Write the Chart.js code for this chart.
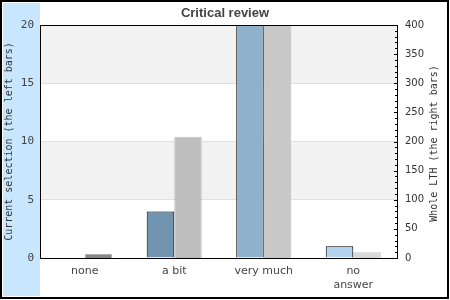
<html>
<head>
  <script src="https://cdn.jsdelivr.net/npm/chart.js@4"></script>
  <style>
    body { margin: 0; background: #fff; }
    #wrap { width: 450px; height: 300px; }
  </style>
</head>
<body>
  <div id="wrap"><canvas id="myChart"></canvas></div>
</body>
<script>
  const categories = ['none', 'a bit', 'very much', ['no', 'answer']];
  const leftValues = [0, 4, 24, 1];      // current selection
  const rightValues = [7, 208, 470, 10]; // whole LTH
  const leftColors = ['#7194b0', '#7194b0', '#8fb1cb', '#b3d3ee'];
  const rightColors = ['#888888', '#bebebe', '#c8c8c8', '#d9d9d9'];
  const rightBorders = ['#b0b0b0', '#bebebe', '#bdbdbd', '#c4c4c4'];
  const leftTicks = [0, 5, 10, 15, 20];
  const rightTicks = [0, 50, 100, 150, 200, 250, 300, 350, 400];

  const decor = {
    id: 'decor',
    beforeDraw(chart) {
      const c = chart.ctx, a = chart.chartArea, y = chart.scales.y;
      c.save();
      c.fillStyle = '#fff';
      c.fillRect(0, 0, chart.width, chart.height);
      c.fillStyle = '#c8e6fd';
      c.fillRect(3, 3, 37, 293);
      // alternating bands
      c.fillStyle = '#f2f2f2';
      [[15, 20], [5, 10]].forEach(([lo, hi]) => {
        const t = y.getPixelForValue(hi), b = y.getPixelForValue(lo);
        c.fillRect(a.left, t, a.right - a.left, b - t);
      });
      c.restore();
    },
    afterDraw(chart) {
      const c = chart.ctx, a = chart.chartArea, y2 = chart.scales.y2;
      c.save();
      c.strokeStyle = '#000';
      c.lineWidth = 1;
      c.strokeRect(a.left + 0.5, a.top + 0.5, a.right - a.left - 1, a.bottom - a.top);
      // minor/major ticks on right axis, drawn inward
      c.beginPath();
      for (let v = 0; v <= 400; v += 10) {
        const py = Math.round(y2.getPixelForValue(v)) + 0.5;
        const len = v % 50 === 0 ? 4 : 3;
        c.moveTo(a.right - len, py);
        c.lineTo(a.right, py);
      }
      c.stroke();
      // right axis title, reading bottom to top
      c.translate(434, (a.top + a.bottom) / 2 + 2);
      c.rotate(-Math.PI / 2);
      c.fillStyle = '#333';
      c.font = '10px "DejaVu Sans Mono"';
      c.textAlign = 'center';
      c.textBaseline = 'middle';
      c.fillText('Whole LTH (the right bars)', 0, 0);
      c.restore();
      // outer frame
      c.save();
      c.strokeStyle = '#000';
      c.lineWidth = 2;
      c.strokeRect(1, 1, 447, 297);
      c.restore();
    }
  };

  const ctx = document.getElementById('myChart').getContext('2d');
  const chart = new Chart(ctx, {
    type: 'bar',
    data: {
      labels: categories,
      datasets: [
        {
          label: 'Current selection',
          data: leftValues,
          yAxisID: 'y',
          backgroundColor: leftColors,
          borderColor: '#000',
          borderWidth: leftValues.map(v => v > 0 ? 1 : 0),
          categoryPercentage: 0.615,
          barPercentage: 1.0
        },
        {
          label: 'Whole LTH',
          data: rightValues,
          yAxisID: 'y2',
          backgroundColor: rightColors,
          borderColor: rightBorders,
          borderWidth: 1,
          categoryPercentage: 0.615,
          barPercentage: 1.0
        }
      ]
    },
    options: {
      animation: false,
      responsive: true,
      maintainAspectRatio: false,
      layout: { padding: 0 },
      plugins: {
        legend: { display: false },
        tooltip: { enabled: false },
        title: {
          display: true,
          text: 'Critical review',
          color: '#444',
          font: { family: '"Liberation Sans", Arial', size: 13, weight: 'bold' },
          padding: { top: 5.5, bottom: 3.9 }
        }
      },
      scales: {
        x: {
          grid: { display: false, drawTicks: false },
          border: { display: false },
          ticks: {
            color: '#444',
            font: { family: '"DejaVu Sans"', size: 11 },
            padding: 7,
            maxRotation: 0
          },
          afterFit(s) { s.height = 42; }
        },
        y: {
          position: 'left',
          min: 0, max: 20,
          afterBuildTicks(s) { s.ticks = leftTicks.map(v => ({ value: v })); },
          grid: { color: '#e0e0e0', drawTicks: false },
          border: { display: false },
          ticks: {
            color: '#444',
            font: { family: '"DejaVu Sans Mono"', size: 11 },
            padding: 6
          },
          title: {
            display: true,
            text: 'Current selection (the left bars)',
            color: '#333',
            font: { family: '"DejaVu Sans Mono"', size: 10 },
            padding: { top: 3.5, bottom: 0 }
          },
          afterFit(s) { s.width = 40; }
        },
        y2: {
          position: 'right',
          min: 0, max: 400,
          afterBuildTicks(s) { s.ticks = rightTicks.map(v => ({ value: v })); },
          grid: { display: false, drawOnChartArea: false, drawTicks: false },
          border: { display: false },
          ticks: {
            color: '#333',
            font: { family: '"DejaVu Sans"', size: 10 },
            padding: 7
          },
          afterFit(s) { s.width = 52; }
        }
      }
    },
    plugins: [decor]
  });
</script>
</html>
